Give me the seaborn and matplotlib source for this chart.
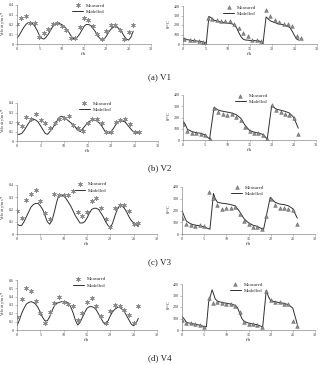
import matplotlib
matplotlib.use("Agg")
import matplotlib.pyplot as plt
import seaborn as sns
import numpy as np

sns.set_theme(style="white")
plt.rcParams['font.family'] = ['Liberation Serif', 'DejaVu Serif']
plt.rcParams['mathtext.fontset'] = 'custom'
plt.rcParams['mathtext.rm'] = 'Liberation Serif'

# ---------------- data ----------------
vel_t_meas = list(range(27))

v1_vel_meas = [0.21, 0.27, 0.29, 0.22, 0.22, 0.07, 0.11, 0.15, 0.21, 0.22, 0.18, 0.14, 0.06, 0.06,
               0.17, 0.27, 0.25, 0.18, 0.10, 0.05, 0.13, 0.20, 0.20, 0.14, 0.05, 0.12, 0.20]
v2_vel_meas = [0.19, 0.16, 0.25, 0.23, 0.28, 0.22, 0.19, 0.14, 0.19, 0.23, 0.24, 0.26, 0.17, 0.14,
               0.11, 0.19, 0.23, 0.23, 0.19, 0.09, 0.09, 0.20, 0.22, 0.23, 0.18, 0.09, 0.10]
v3_vel_meas = [0.19, 0.13, 0.28, 0.33, 0.36, 0.27, 0.17, 0.12, 0.33, 0.32, 0.32, 0.32, 0.35, 0.18,
               0.15, 0.18, 0.27, 0.29, 0.21, 0.12, 0.06, 0.21, 0.24, 0.24, 0.19, 0.08, 0.09]
v4_vel_meas = [0.16, 0.37, 0.50, 0.47, 0.35, 0.20, 0.09, 0.22, 0.32, 0.40, 0.34, 0.31, 0.29, 0.12,
               0.21, 0.34, 0.39, 0.29, 0.17, 0.08, 0.23, 0.30, 0.29, 0.24, 0.18, 0.08, 0.29]

vel_t_mod = [i * 0.5 for i in range(53)]
v1_vel_mod = [0.06, 0.09, 0.13, 0.17, 0.20, 0.22, 0.22, 0.21, 0.18, 0.14, 0.09, 0.06, 0.05, 0.07,
              0.10, 0.14, 0.18, 0.20, 0.21, 0.21, 0.20, 0.18, 0.16, 0.13, 0.09, 0.06, 0.05, 0.07,
              0.10, 0.14, 0.18, 0.20, 0.20, 0.19, 0.16, 0.13, 0.09, 0.06, 0.04, 0.05, 0.08, 0.12,
              0.15, 0.17, 0.18, 0.17, 0.15, 0.12, 0.08, 0.05, 0.04, 0.07, 0.13]
v2_vel_mod = [0.07, 0.07, 0.08, 0.11, 0.15, 0.19, 0.22, 0.23, 0.22, 0.20, 0.16, 0.12, 0.08, 0.07,
              0.10, 0.13, 0.17, 0.21, 0.25, 0.26, 0.25, 0.23, 0.21, 0.19, 0.17, 0.14, 0.11, 0.10,
              0.13, 0.16, 0.19, 0.21, 0.22, 0.22, 0.21, 0.19, 0.16, 0.12, 0.09, 0.08, 0.10, 0.13,
              0.17, 0.20, 0.21, 0.21, 0.20, 0.17, 0.14, 0.11, 0.09, 0.08, 0.10]
v3_vel_mod = [0.08, 0.07, 0.07, 0.10, 0.14, 0.18, 0.22, 0.24, 0.25, 0.25, 0.23, 0.20, 0.15, 0.10,
              0.08, 0.11, 0.18, 0.26, 0.32, 0.32, 0.31, 0.29, 0.26, 0.23, 0.19, 0.15, 0.12, 0.09,
              0.09, 0.10, 0.13, 0.17, 0.20, 0.21, 0.21, 0.20, 0.17, 0.14, 0.10, 0.07, 0.05, 0.09,
              0.15, 0.20, 0.23, 0.23, 0.21, 0.18, 0.14, 0.11, 0.09, 0.08, 0.06]
v4_vel_mod = [0.05, 0.12, 0.20, 0.26, 0.31, 0.33, 0.34, 0.33, 0.31, 0.27, 0.21, 0.15, 0.11, 0.11,
              0.16, 0.23, 0.29, 0.32, 0.33, 0.34, 0.34, 0.34, 0.32, 0.28, 0.21, 0.12, 0.06, 0.09,
              0.15, 0.21, 0.26, 0.28, 0.28, 0.27, 0.24, 0.19, 0.14, 0.09, 0.07, 0.11, 0.17, 0.22,
              0.25, 0.27, 0.27, 0.25, 0.22, 0.17, 0.12, 0.07, 0.05, 0.08, 0.14]

v1_temp_t_meas = [0.2, 1.5, 2.5, 3.5, 4.5, 5.0, 5.6, 6.5, 7.5, 8.5, 9.5, 10.5, 11.5, 12.5, 13.5,
                  14.5, 15.5, 16.5, 17.5, 18.5, 19.5, 20.5, 21.5, 22.5, 23.5, 24.5, 25.5, 26.5]
v1_temp_meas = [55, 41, 38, 31, 24, 10, 270, 262, 248, 245, 245, 242, 210, 165, 115,
                80, 41, 41, 28, 355, 293, 255, 231, 210, 207, 190, 85, 62]
v1_temp_t_mod = [0, 1, 2, 3, 4, 4.8, 5.2, 5.8, 6.2, 7, 8, 9, 10, 11, 11.5, 12, 12.5, 13, 13.5, 14,
                 15, 16, 17, 17.5, 17.9, 18.6, 19.5, 20.5, 21.5, 22.5, 23.5, 24, 24.5, 25, 25.5, 26]
v1_temp_mod = [62, 45, 38, 32, 27, 15, 3, 290, 280, 250, 235, 228, 220, 212, 200, 170, 120, 75, 50, 42,
               38, 36, 33, 20, 3, 285, 245, 225, 212, 202, 185, 170, 130, 85, 50, 40]

v2_temp_t_meas = list(range(27))
v2_temp_meas = [145, 80, 65, 65, 56, 44, 12, 287, 249, 228, 219, 228, 201, 175, 116, 80, 62, 62,
                47, 9, 308, 270, 246, 228, 225, 193, 56]
v2_temp_t_mod = [0, 0.5, 1, 2, 3, 4, 5, 5.5, 6, 7, 8, 9, 10, 11, 12, 13, 14, 15, 16, 17, 18, 18.5,
                 19, 20, 21, 22, 23, 24, 25, 26]
v2_temp_mod = [170, 140, 95, 75, 65, 60, 45, 25, 10, 290, 265, 255, 248, 240, 225, 195, 130, 85, 70,
               62, 50, 30, 8, 305, 275, 265, 255, 240, 200, 105]

v3_temp_t_meas = list(range(27))
v3_temp_meas = [135, 88, 76, 70, 79, 70, 360, 303, 250, 209, 220, 224, 226, 168, 109, 82, 59, 59,
                41, 150, 297, 250, 224, 224, 215, 206, 85]
v3_temp_t_mod = [0, 0.5, 1, 2, 3, 4, 5, 6, 6.3, 7.1, 7.5, 8, 9, 10, 11, 12, 13, 14, 15, 16, 17, 18,
                 18.4, 19.9, 21, 22, 23, 24, 25, 26]
v3_temp_mod = [200, 150, 110, 85, 75, 70, 60, 45, 40, 345, 300, 270, 262, 258, 250, 240, 190, 130,
               95, 75, 65, 45, 40, 312, 270, 255, 250, 240, 215, 135]

v4_temp_t_meas = list(range(27))
v4_temp_meas = [90, 64, 58, 49, 41, 26, 275, 235, 241, 238, 229, 226, 212, 159, 72, 55, 49, 41,
                29, 339, 264, 243, 243, 229, 223, 78, 35]
v4_temp_t_mod = [0, 0.5, 1, 2, 3, 4, 5, 5.5, 6, 6.8, 7.5, 8, 9, 10, 11, 12, 12.5, 13, 13.5, 14, 15,
                 16, 17, 18, 18.2, 19, 19.5, 20, 21, 22, 23, 24, 25, 25.5, 26]
v4_temp_mod = [120, 95, 65, 58, 50, 42, 30, 28, 240, 350, 270, 250, 240, 232, 226, 215, 195, 150, 100,
               75, 60, 52, 45, 30, 25, 345, 290, 255, 245, 238, 232, 220, 190, 120, 50]

captions = ["(a) V1", "(b) V2", "(c) V3", "(d) V4"]

# ---------------- layout ----------------
W, H = 320, 365
fig = plt.figure(figsize=(W / 100, H / 100), dpi=100)


def px_axes(x0, x1, y0, y1):
    return fig.add_axes([x0 / W, 1 - y1 / H, (x1 - x0) / W, (y1 - y0) / H])


rows = [
    dict(vm=v1_vel_meas, vd=v1_vel_mod, vmax=0.4, tm=v1_temp_t_meas, tmv=v1_temp_meas,
         td=v1_temp_t_mod, tdv=v1_temp_mod,
         L=(17, 151, 5, 44), R=(183, 317, 6, 44), cap_y=77, legL=0.39, legR=0.28),
    dict(vm=v2_vel_meas, vd=v2_vel_mod, vmax=0.4, tm=v2_temp_t_meas, tmv=v2_temp_meas,
         td=v2_temp_t_mod, tdv=v2_temp_mod,
         L=(17, 158, 103, 141), R=(183, 316, 95, 140), cap_y=168, legL=0.42, legR=0.37),
    dict(vm=v3_vel_meas, vd=v3_vel_mod, vmax=0.4, tm=v3_temp_t_meas, tmv=v3_temp_meas,
         td=v3_temp_t_mod, tdv=v3_temp_mod,
         L=(17, 157, 185, 234), R=(182, 315, 187, 234), cap_y=262, legL=0.39, legR=0.35),
    dict(vm=v4_vel_meas, vd=v4_vel_mod, vmax=0.6, tm=v4_temp_t_meas, tmv=v4_temp_meas,
         td=v4_temp_t_mod, tdv=v4_temp_mod,
         L=(17, 157, 280, 330), R=(182, 315, 284, 330), cap_y=358, legL=0.38, legR=0.34),
]

LINE_C = "#303030"
MARK_C = "#8a8a8a"
SPINE_C = "#8c8c8c"


def style_axes(ax, ymax, ystep, ylabel, yfmt, label_x, label_fs):
    ax.set_xlim(0, 30)
    ax.set_ylim(0, ymax)
    ax.set_xticks(np.arange(0, 31, 5))
    ax.set_yticks(np.arange(0, ymax + 1e-9, ystep))
    ax.set_yticklabels([yfmt(v) for v in np.arange(0, ymax + 1e-9, ystep)])
    for s in ["top", "right"]:
        ax.spines[s].set_visible(False)
    for s in ["left", "bottom"]:
        ax.spines[s].set_color(SPINE_C)
        ax.spines[s].set_linewidth(0.5)
    ax.tick_params(axis="both", labelsize=3, length=1.2, width=0.4, pad=0.9,
                   colors=SPINE_C, labelcolor="#333333", direction="out")
    ax.tick_params(axis="both", which="both", bottom=True, left=True)
    ax.set_xlabel("t/h", fontsize=3.5, labelpad=1, color="#333333")
    ax.set_ylabel(ylabel, fontsize=label_fs, color="#333333")
    ax.yaxis.set_label_coords(label_x, 0.55)


def vfmt(v):
    return "0" if abs(v) < 1e-9 else f"{v:.1f}"


def tfmt(v):
    return f"{int(round(v))}"


for r, cap in zip(rows, captions):
    x0, x1 = r["L"][0], r["L"][1]
    axL = px_axes(*r["L"])
    sns.scatterplot(x=vel_t_meas, y=r["vm"], ax=axL, marker=(6, 2, 0), s=9, color=MARK_C,
                    edgecolor=MARK_C, linewidth=0.5, label="Measured", zorder=3)
    sns.lineplot(x=vel_t_mod, y=r["vd"], ax=axL, color=LINE_C, linewidth=0.7,
                 label="Modelled", zorder=2)
    style_axes(axL, r["vmax"], 0.1, "Velocity/m s$^{-1}$", vfmt,
               (9.0 - x0) / (x1 - x0), 3.0)
    axL.legend(loc="upper left", bbox_to_anchor=(r["legL"], 1.12), frameon=False,
               fontsize=3.5, handlelength=2.2, handletextpad=0.6, labelspacing=0.4,
               borderpad=0.1, markerscale=1.0)

    xr0, xr1 = r["R"][0], r["R"][1]
    axR = px_axes(*r["R"])
    sns.scatterplot(x=r["tm"], y=r["tmv"], ax=axR, marker="^", s=7, color=MARK_C,
                    edgecolor="#555555", linewidth=0.3, label="Measured", zorder=3)
    sns.lineplot(x=r["td"], y=r["tdv"], ax=axR, color=LINE_C, linewidth=0.7,
                 label="Modelled", zorder=2, sort=False)
    style_axes(axR, 400, 100, "θ/°C", tfmt, (171 - xr0) / (xr1 - xr0), 3.5)
    axR.legend(loc="upper left", bbox_to_anchor=(r["legR"], 1.1), frameon=False,
               fontsize=3.5, handlelength=2.2, handletextpad=0.6, labelspacing=0.4,
               borderpad=0.1)

    fig.text(160 / W, 1 - r["cap_y"] / H, cap, ha="center", va="center", fontsize=6.5,
             color="#222222")

fig.savefig("out.png", dpi=100, facecolor="white")
